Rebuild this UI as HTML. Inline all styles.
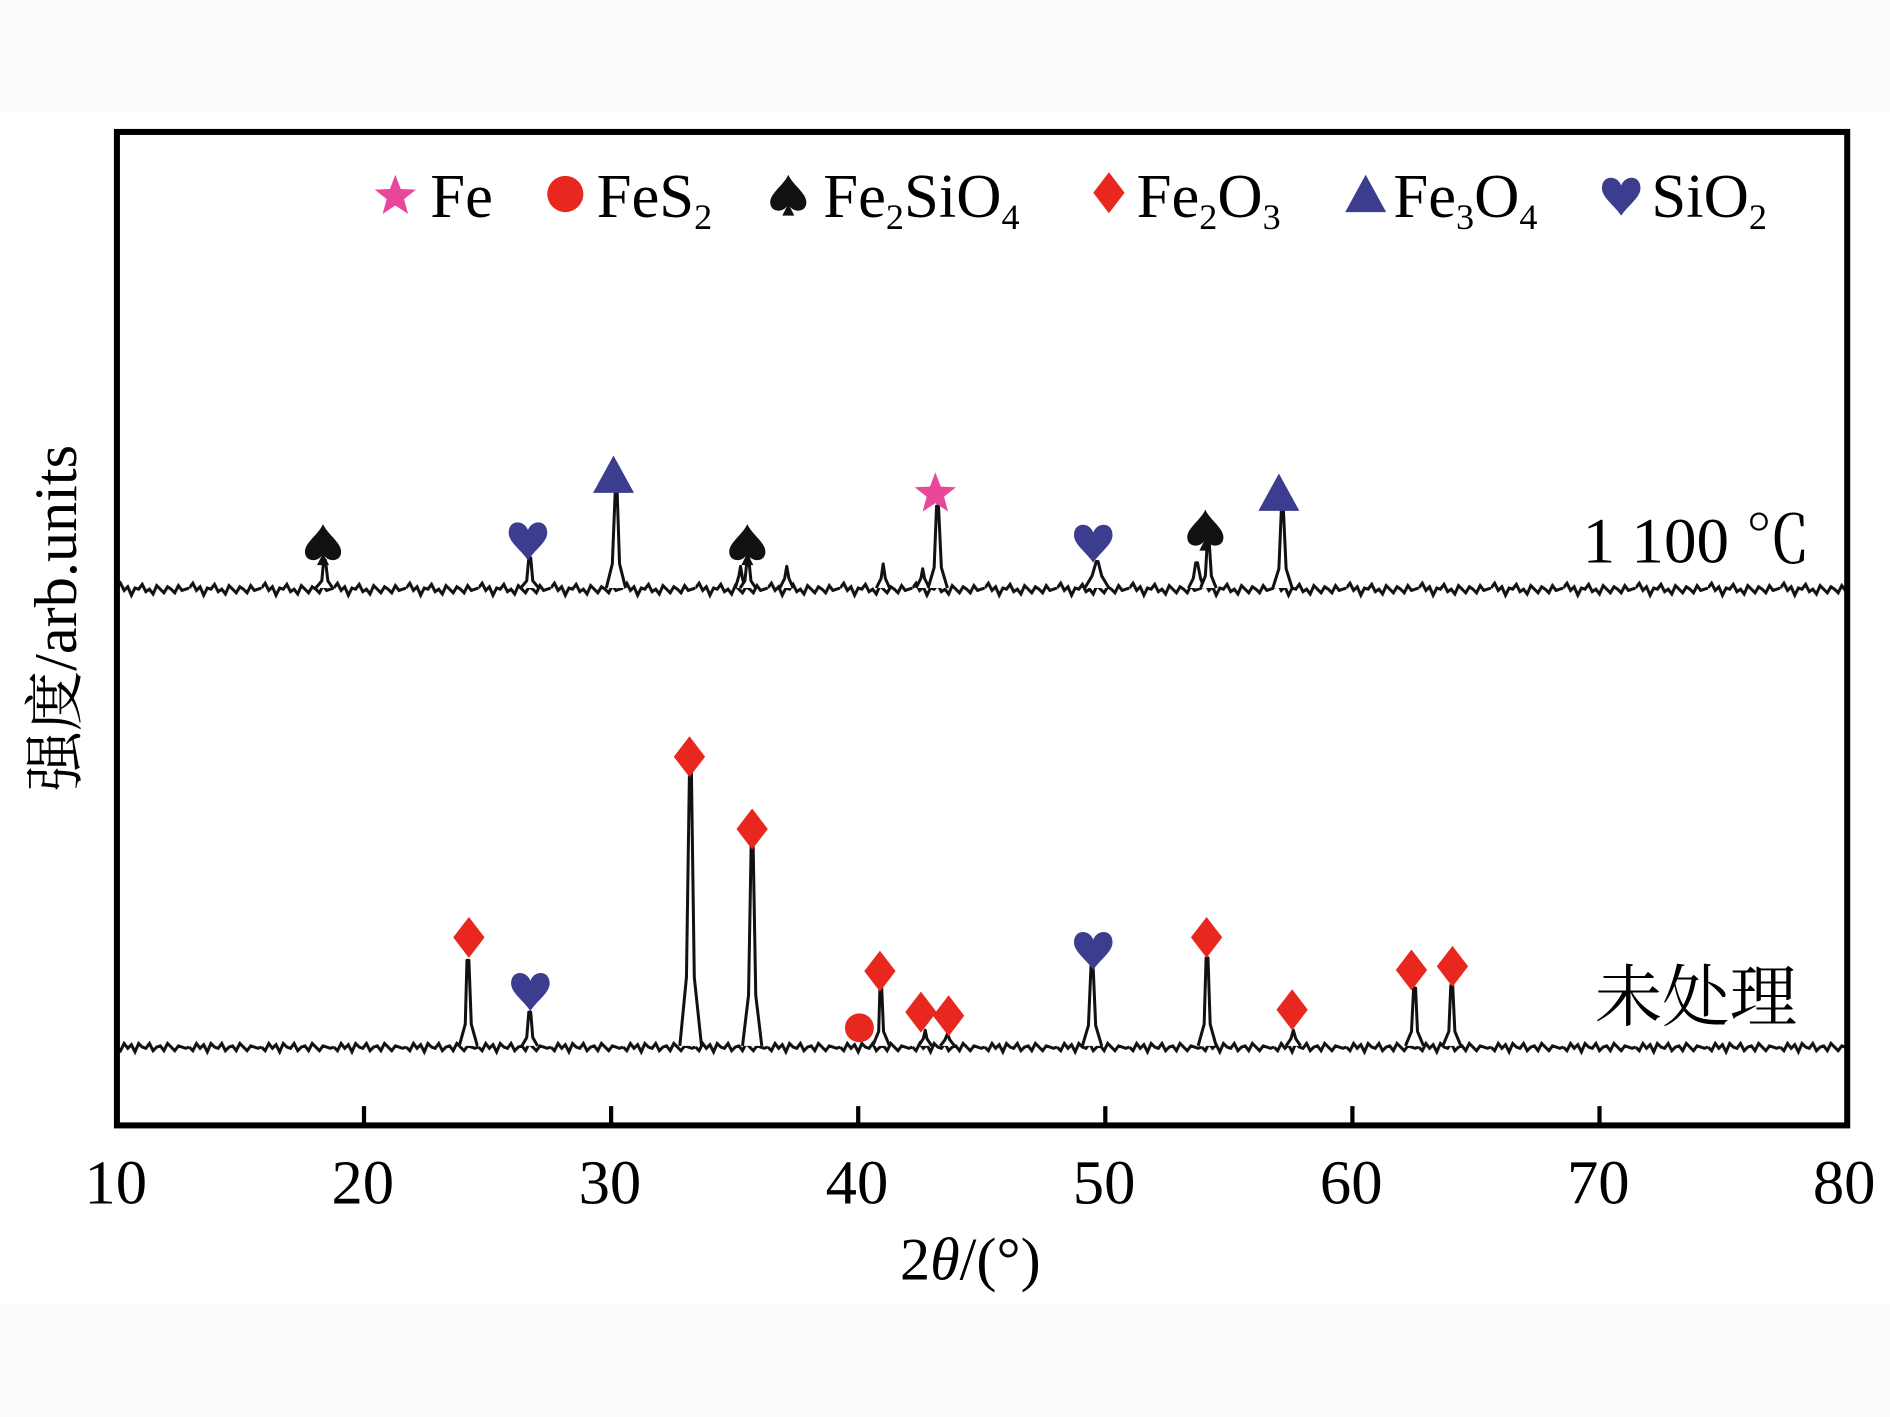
<!DOCTYPE html>
<html><head><meta charset="utf-8"><style>
html,body{margin:0;padding:0;background:#fff;}
svg{display:block;}
</style></head><body>
<svg width="1890" height="1417" viewBox="0 0 1568 1176" preserveAspectRatio="none" xmlns="http://www.w3.org/2000/svg" xmlns:xlink="http://www.w3.org/1999/xlink" font-family="'Liberation Serif','Noto Serif CJK SC',serif">
<defs>
<pattern id="nz" patternUnits="userSpaceOnUse" x="97" y="0" width="60" height="1176">
<path d="M0 488 l3 -4 l3 6 l3 -3 l3 7 l3 -6 l3 1 l3 -4 l3 6 l3 -2 l3 4 l3 -7 l3 3 l3 3 l3 -5 l3 2 l3 3 l3 -6 l3 4 l3 -1 l3 -1" fill="none" stroke="#111" stroke-width="2.5"/>
<path d="M0 869 l3 3 l3 -6 l3 4 l3 -3 l3 6 l3 -7 l3 3 l3 1 l3 -4 l3 6 l3 -3 l3 -1 l3 4 l3 -6 l3 3 l3 3 l3 -4 l3 1 l3 1 l3 -1" fill="none" stroke="#111" stroke-width="2.5"/>
</pattern>
<g id="star"><polygon points="0,-18 4.5,-6.1 17.1,-5.6 7.2,2.3 10.6,14.6 0,7.6 -10.6,14.6 -7.2,2.3 -17.1,-5.6 -4.5,-6.1" fill="#e8479a"/></g>
<g id="tri"><polygon points="0,-17 17,14 -17,14" fill="#3d3d8f"/></g>
<g id="dia"><polygon points="0,-17 13,0 0,17 -13,0" fill="#e8281f"/></g>
<g id="heart"><path d="M0 17 C-6 8 -16 2 -16 -6 C-16 -17 -3 -17 0 -8 C3 -17 16 -17 16 -6 C16 2 6 8 0 17Z" fill="#3d3d8f"/></g>
<g id="spade"><path d="M0 -17 C-4 -8 -15 -2 -15 6 C-15 14 -5 15 -1 9 L-5 17 L5 17 L1 9 C5 15 15 14 15 6 C15 -2 4 -8 0 -17Z" fill="#111"/></g>
</defs>
<rect x="0" y="0" width="1568" height="1176" fill="#fff"/>
<rect x="0" y="0" width="1568" height="93" fill="#fcfbf9"/>
<rect x="0" y="1083" width="1568" height="93" fill="#fcfbf9"/>
<rect x="99" y="476" width="1432" height="24" fill="url(#nz)"/>
<rect x="99" y="857" width="1432" height="24" fill="url(#nz)"/>
<g fill="#fff" stroke="#111" stroke-width="2.5" stroke-linejoin="round">
<path d="M262 488 L267 482 L268.5 465 L270 465 L272 482 L276 488"/>
<path d="M432 488 L437 482 L438.7 463 L440.3 463 L442 482 L447 488"/>
<path d="M503 488 L508 468 L510.4 408 L512 408 L514 468 L519 488"/>
<path d="M610 488 L613 478 L614.4 470 L616 480 L618 488"/>
<path d="M614 488 L618 482 L620 462 L621 462 L623 482 L627 488"/>
<path d="M647 488 L651 480 L652.7 470 L654.5 480 L658 488"/>
<path d="M727 488 L731 480 L732.7 468 L734.5 480 L738 488"/>
<path d="M760 488 L764 480 L765.5 472 L767 480 L771 488"/>
<path d="M770 488 L775 471 L777 420 L778.6 420 L781 471 L786 488"/>
<path d="M900 488 L906 478 L909.5 466 L911 466 L914 478 L920 488"/>
<path d="M986 488 L990 480 L992 467 L993.5 467 L996 480 L999 488"/>
<path d="M996 488 L1000 478 L1001.6 450 L1003.2 450 L1005 478 L1009 488"/>
<path d="M1056 488 L1061 472 L1063 424 L1064.8 424 L1067 472 L1072 488"/>
<path d="M381 868 L386 850 L387.4 797 L389 797 L391 850 L396 868"/>
<path d="M433 868 L437 861 L438.7 840 L440.3 840 L442 861 L446 868"/>
<path d="M564 868 L569.5 811 L572 640 L573.6 640 L576 811 L582 868"/>
<path d="M616 868 L621 826 L623.2 700 L624.8 700 L627 826 L632 868"/>
<path d="M724 868 L729 856 L730 820 L731.5 820 L733 856 L738 868"/>
<path d="M762 868 L766 862 L767.6 855 L769 862 L773 868"/>
<path d="M780 868 L784 863 L786 858 L788 863 L792 868"/>
<path d="M898 868 L903 851 L905.2 800 L906.8 800 L909 851 L914 868"/>
<path d="M994 868 L999 850 L1000.6 795 L1002.2 795 L1004 850 L1009 868"/>
<path d="M1067 868 L1071 862 L1073 855 L1075 862 L1079 868"/>
<path d="M1166 868 L1171 856 L1172.8 820 L1174.4 820 L1176 856 L1181 868"/>
<path d="M1197 868 L1202 856 L1203.6 818 L1205.2 818 L1207 856 L1212 868"/>
</g>
<rect x="97" y="109.5" width="1435.5" height="824.5" fill="none" stroke="#000" stroke-width="5"/>
<g stroke="#000" stroke-width="3.5">
<line x1="302" y1="932" x2="302" y2="918"/><line x1="507" y1="932" x2="507" y2="918"/>
<line x1="712" y1="932" x2="712" y2="918"/><line x1="917" y1="932" x2="917" y2="918"/>
<line x1="1122" y1="932" x2="1122" y2="918"/><line x1="1327" y1="932" x2="1327" y2="918"/>
</g>
<g font-size="52" text-anchor="middle" fill="#000">
<text x="96" y="999">10</text><text x="301" y="999">20</text><text x="506" y="999">30</text>
<text x="711" y="999">40</text><text x="916" y="999">50</text><text x="1121" y="999">60</text>
<text x="1326" y="999">70</text><text x="1530" y="999">80</text>
</g>
<text x="805" y="1062" font-size="50" text-anchor="middle">2<tspan font-style="italic">θ</tspan>/(°)</text>
<text transform="translate(63,513) rotate(-90)" font-size="50" text-anchor="middle">强度/arb.units</text>
<text x="1313" y="467" font-size="54">1 100 ℃</text>
<text x="1323" y="847" font-size="56" font-family="'Noto Serif CJK SC',serif">未处理</text>
<g font-size="52" fill="#000">
<text x="357" y="180">Fe</text>
<text x="495" y="180">FeS<tspan font-size="30" dy="10">2</tspan></text>
<text x="683" y="180">Fe<tspan font-size="30" dy="10">2</tspan><tspan dy="-10">SiO</tspan><tspan font-size="30" dy="10">4</tspan></text>
<text x="943" y="180">Fe<tspan font-size="30" dy="10">2</tspan><tspan dy="-10">O</tspan><tspan font-size="30" dy="10">3</tspan></text>
<text x="1156" y="180">Fe<tspan font-size="30" dy="10">3</tspan><tspan dy="-10">O</tspan><tspan font-size="30" dy="10">4</tspan></text>
<text x="1370" y="180">SiO<tspan font-size="30" dy="10">2</tspan></text>
</g>
<use xlink:href="#star" href="#star" x="328" y="163"/>
<circle cx="469" cy="161" r="15" fill="#e8281f"/>
<use xlink:href="#spade" href="#spade" x="654" y="162"/>
<use xlink:href="#dia" href="#dia" x="920" y="160"/>
<use xlink:href="#tri" href="#tri" x="1133" y="162"/>
<use xlink:href="#heart" href="#heart" x="1345" y="162"/>

<use xlink:href="#spade" href="#spade" x="268" y="452"/>
<use xlink:href="#heart" href="#heart" x="438" y="448"/>
<use xlink:href="#tri" href="#tri" x="509" y="395"/>
<use xlink:href="#spade" href="#spade" x="620" y="452"/>
<use xlink:href="#star" href="#star" x="776" y="410"/>
<use xlink:href="#heart" href="#heart" x="907" y="450"/>
<use xlink:href="#spade" href="#spade" x="1000" y="440"/>
<use xlink:href="#tri" href="#tri" x="1061" y="410"/>

<use xlink:href="#dia" href="#dia" x="389" y="778"/>
<use xlink:href="#heart" href="#heart" x="440" y="822"/>
<use xlink:href="#dia" href="#dia" x="572" y="628"/>
<use xlink:href="#dia" href="#dia" x="624" y="688"/>
<circle cx="713" cy="853" r="12" fill="#e8281f"/>
<use xlink:href="#dia" href="#dia" x="730" y="806"/>
<use xlink:href="#dia" href="#dia" x="764" y="840"/>
<use xlink:href="#dia" href="#dia" x="787" y="843"/>
<use xlink:href="#heart" href="#heart" x="907" y="788"/>
<use xlink:href="#dia" href="#dia" x="1001" y="778"/>
<use xlink:href="#dia" href="#dia" x="1072" y="838"/>
<use xlink:href="#dia" href="#dia" x="1171" y="805"/>
<use xlink:href="#dia" href="#dia" x="1205" y="802"/>
</svg>
</body></html>
